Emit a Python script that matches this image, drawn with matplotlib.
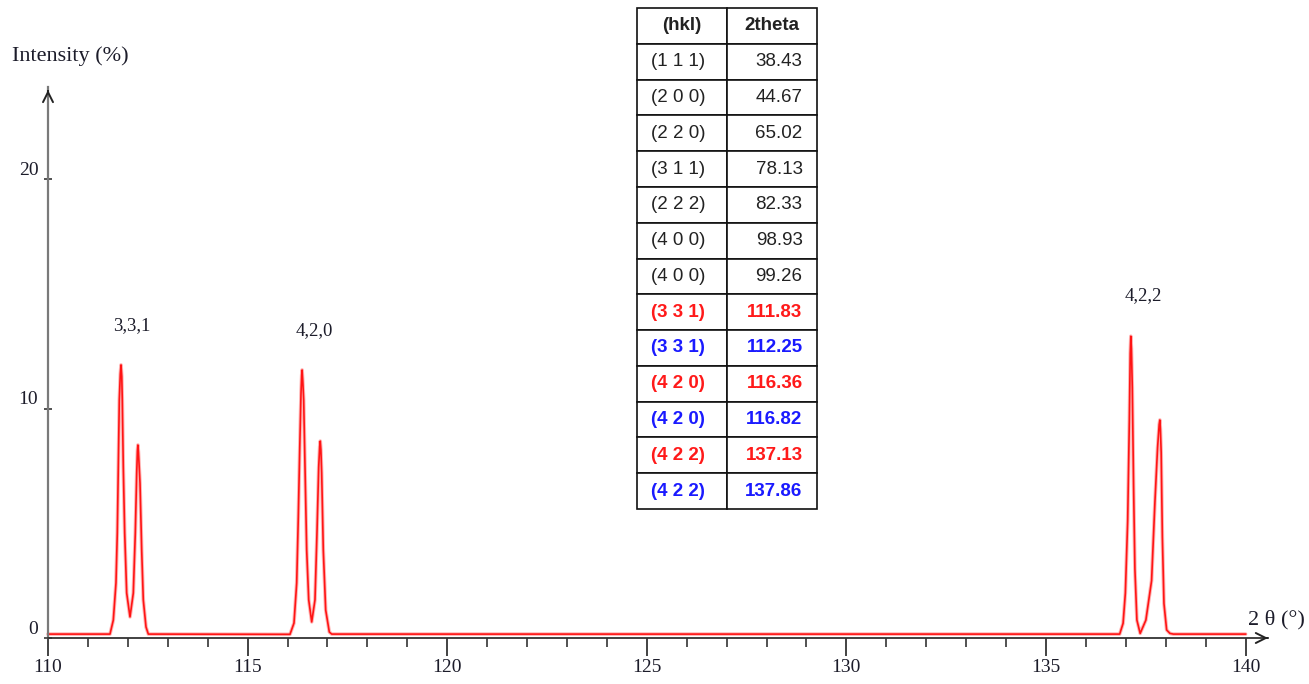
import matplotlib
matplotlib.use("Agg")
import matplotlib.pyplot as plt
from matplotlib.ticker import FixedLocator


# diffraction profile (2theta in degrees, intensity in %)
two_theta = [
    110.000,
    111.553, 111.636, 111.703, 111.736, 111.761, 111.786, 111.811, 111.829, 111.848,
    111.861, 111.886, 111.921, 111.971, 112.054, 112.137, 112.187, 112.222, 112.240,
    112.252, 112.266, 112.305, 112.347, 112.387, 112.455, 112.513,
    116.062, 116.162, 116.230, 116.270, 116.305, 116.338, 116.355, 116.365, 116.382,
    116.405, 116.438, 116.480, 116.531, 116.606, 116.688, 116.738, 116.781, 116.806,
    116.820, 116.836, 116.856, 116.896, 116.956, 117.047, 117.107,
    136.846, 136.931, 136.988, 137.046, 137.088, 137.110, 137.125, 137.140, 137.162,
    137.194, 137.227, 137.277, 137.359, 137.502, 137.645, 137.728, 137.795, 137.835,
    137.852, 137.866, 137.885, 137.915, 137.955, 138.022, 138.105, 138.190,
    140.000,
]
intensity = [
    0.17,
    0.17, 0.78, 2.40, 4.58, 7.45, 10.37, 11.50, 11.90, 11.40,
    10.37, 7.45, 4.58, 1.96, 0.92, 1.96, 4.58, 7.19, 8.15,
    8.41, 8.10, 6.75, 3.83, 1.66, 0.48, 0.17,
    0.16, 0.65, 2.40, 5.27, 8.19, 10.68, 11.45, 11.68, 11.20,
    10.37, 7.45, 3.83, 1.66, 0.70, 1.66, 4.58, 7.45, 8.35,
    8.58, 8.20, 7.19, 3.83, 1.22, 0.26, 0.17,
    0.17, 0.64, 1.96, 5.10, 9.50, 12.40, 13.15, 12.60, 10.90,
    6.60, 3.00, 0.78, 0.20, 0.78, 2.50, 5.90, 8.30, 9.30,
    9.50, 9.10, 8.10, 4.40, 1.50, 0.35, 0.20, 0.17,
    0.17,
]

peak_labels = ["3,3,1", "4,2,0", "4,2,2"]
peak_label_x = [112.10, 116.66, 137.43]
peak_label_y = [13.6, 13.4, 14.9]

table_header = ["(hkl)", "2theta"]
hkl = ["(1 1 1)", "(2 0 0)", "(2 2 0)", "(3 1 1)", "(2 2 2)", "(4 0 0)", "(4 0 0)",
       "(3 3 1)", "(3 3 1)", "(4 2 0)", "(4 2 0)", "(4 2 2)", "(4 2 2)"]
two_theta_table = ["38.43", "44.67", "65.02", "78.13", "82.33", "98.93", "99.26",
                   "111.83", "112.25", "116.36", "116.82", "137.13", "137.86"]
row_colors = ["#222222"] * 7 + ["#ff1a1a", "#1a1aff"] * 3

SERIF = "Liberation Serif"
SANS = "Liberation Sans"
W, H = 1309, 684

fig = plt.figure(figsize=(W / 100, H / 100), dpi=100)
ax = fig.add_axes([0, 0, 1, 1])
ax.patch.set_alpha(0)

# pixel layout of the reference: x=110 at px 48, 39.92 px per degree; y=0 at px 638, 22.95 px per %
ax.set_xlim(110 - 48 / 39.92, 110 + (W - 48) / 39.92)
ax.set_ylim((638 - H) / 22.95, 638 / 22.95)

# soft halo + bright core, like the anti-aliased trace in the original
ax.plot(two_theta, intensity, color="#ffb4b4", lw=2.6, solid_joinstyle="round", solid_capstyle="round")
ax.plot(two_theta, intensity, color="#ff1414", lw=1.2, solid_joinstyle="round")

for sp in ("top", "right"):
    ax.spines[sp].set_visible(False)
ax.spines["left"].set_position(("data", 110))
ax.spines["bottom"].set_position(("data", 0))
ax.spines["left"].set_bounds(0, 24.0)
ax.spines["bottom"].set_bounds(110, 140.56)
ax.spines["left"].set_color("#7a7a7a")
ax.spines["left"].set_linewidth(1.6)
ax.spines["bottom"].set_color("#333333")
ax.spines["bottom"].set_linewidth(1.3)

ax.annotate("", xy=(110, 24.0), xytext=(110, 23.7),
            arrowprops=dict(arrowstyle="->", color="#222222", lw=1.4, mutation_scale=18))
ax.annotate("", xy=(140.56, 0), xytext=(140.45, 0),
            arrowprops=dict(arrowstyle="->", color="#222222", lw=1.4, mutation_scale=18))

ax.set_xticks(range(110, 141, 5))
ax.xaxis.set_minor_locator(FixedLocator(range(110, 141)))
ax.tick_params(axis="x", which="major", direction="out", length=13, width=1.2,
               color="#222222", pad=2, labelsize=14, labelcolor="#1c1c2a")
ax.tick_params(axis="x", which="minor", direction="out", length=6.5, width=1.1, color="#222222")
ax.set_yticks([0, 10, 20])
ax.tick_params(axis="y", direction="inout", length=6, width=1.1, color="#222222",
               pad=4, labelsize=14, labelcolor="#1c1c2a")
for lab in ax.get_xticklabels() + ax.get_yticklabels():
    lab.set_fontfamily(SERIF)
for lab in ax.get_yticklabels():
    lab.set_va("bottom")

ax.text(109.10, 25.36, "Intensity (%)", fontsize=16, family=SERIF, color="#1c1c2a",
        ha="left", va="center")
ax.text(140.06, 0.78, "2 θ (°)", fontsize=16, family=SERIF, color="#1c1c2a",
        ha="left", va="center")

for txt, px, py in zip(peak_labels, peak_label_x, peak_label_y):
    ax.text(px, py, txt, fontsize=13.5, family=SERIF, color="#1c1c2a", ha="center", va="center")

# reflections table
cells = [[h, t] for h, t in zip(hkl, two_theta_table)]
tbl = ax.table(cellText=cells, colLabels=table_header,
               bbox=[637 / W, 1 - 509 / H, 180 / W, 501 / H])
tbl.auto_set_font_size(False)
for (r, c), cell in tbl.get_celld().items():
    cell.set_edgecolor("#111111")
    cell.set_linewidth(1.2)
    cell.PAD = 0.16
    txt = cell.get_text()
    txt.set_fontfamily(SANS)
    txt.set_fontsize(13.5)
    if r == 0:
        txt.set_ha("center")
        cell._loc = "center"
        txt.set_fontweight("bold")
        txt.set_color("#222222")
    else:
        loc = "left" if c == 0 else "right"
        cell._loc = loc
        txt.set_ha(loc)
        txt.set_color(row_colors[r - 1])
        if r > 7:
            txt.set_fontweight("bold")

fig.savefig("out.png", dpi=100)
plt.close(fig)
